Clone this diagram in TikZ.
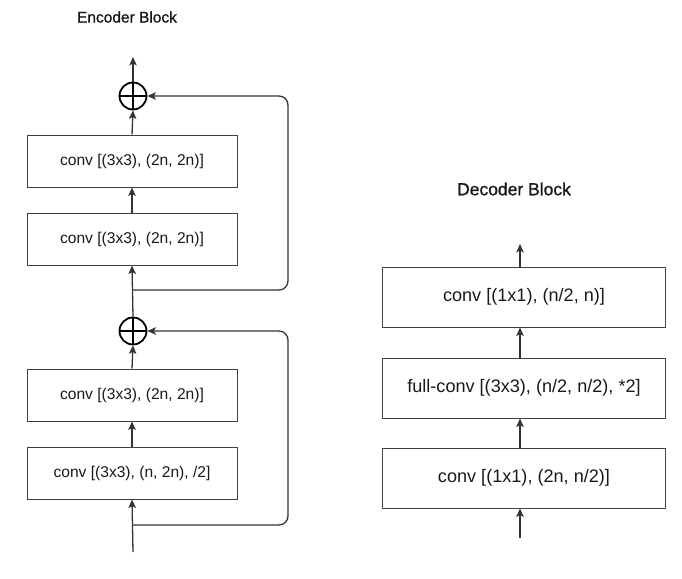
\documentclass[tikz,border=0pt]{standalone}
\usepackage{fontspec}
\setmainfont{Liberation Sans}
\newfontfamily\titlefont[FakeBold=1]{Liberation Sans}
\usetikzlibrary{arrows.meta,positioning}

\tikzset{
layer/.style={draw=black!75,line width=1pt,rectangle,inner sep=0pt},
enclayer/.style={layer,minimum width=210pt,minimum height=52pt,font=\fontsize{15.6}{17}\selectfont},
declayer/.style={layer,minimum width=283pt,minimum height=60pt,font=\fontsize{18.1}{20}\selectfont},
adder/.style={draw,circle,line width=1.8pt,minimum size=27pt,inner sep=0pt,
  path picture={\draw[line width=1.3pt] (path picture bounding box.north) -- (path picture bounding box.south)
  (path picture bounding box.west) -- (path picture bounding box.east);}},
flow/.style={draw=black!80,line width=1.3pt,-{Stealth[length=8.5pt,width=7.5pt,inset=2pt]}}}

\begin{document}
\begin{tikzpicture}
  [x=1pt,y=-1pt,
   every node/.style={text=black!90},
   skip/.style={flow,rounded corners=9pt}]
   \useasboundingbox (0,0) rectangle (682,578);
   % encoder block
   \node[font=\titlefont\fontsize{15.5}{17}\selectfont] (enctitle) at (127,17) {Encoder Block};
   \node[adder] (suma) at (133,96) {};
   \node[enclayer] (encd) at (132,161) {conv [(3x3), (2n, 2n)]};
   \node[enclayer] (encc) at (132,239) {conv [(3x3), (2n, 2n)]};
   \node[adder] (sumb) at (133,331) {};
   \node[enclayer] (encb) at (132,395) {conv [(3x3), (2n, 2n)]};
   \node[enclayer] (enca) at (132,473) {conv [(3x3), (n, 2n), /2]};
   \coordinate (encout) at (133,57);
   \coordinate (encin) at (133,552);
   \coordinate (brancha) at (133,525);
   \coordinate (branchb) at (133,290);
   \draw[flow] (encin) -- (enca.south);
   \draw[flow] (enca.north) -- (encb.south);
   \draw[flow] (encb.north) -- (sumb.south);
   \draw[flow] (sumb.north) -- (encc.south);
   \draw[flow] (encc.north) -- (encd.south);
   \draw[flow] (encd.north) -- (suma.south);
   \draw[flow] (suma.north) -- (encout);
   \draw[skip] (brancha) -| (288,331) -- (sumb.east);
   \draw[skip] (branchb) -| (288,96) -- (suma.east);
   % decoder block
   \node[font=\titlefont\fontsize{17.5}{19}\selectfont] (dectitle) at (514,189) {Decoder Block};
   \node[declayer] (decc) at (524,297) {conv [(1x1), (n/2, n)]};
   \node[declayer] (decb) at (524,388) {full-conv [(3x3), (n/2, n/2), *2]};
   \node[declayer] (deca) at (524,478) {conv [(1x1), (2n, n/2)]};
   \coordinate (decout) at (520,244);
   \coordinate (decin) at (520,538);
   \draw[flow] (decin) -- (decin |- deca.south);
   \draw[flow] (decin |- deca.north) -- (decin |- decb.south);
   \draw[flow] (decin |- decb.north) -- (decin |- decc.south);
   \draw[flow] (decin |- decc.north) -- (decout);
\end{tikzpicture}
\end{document}
